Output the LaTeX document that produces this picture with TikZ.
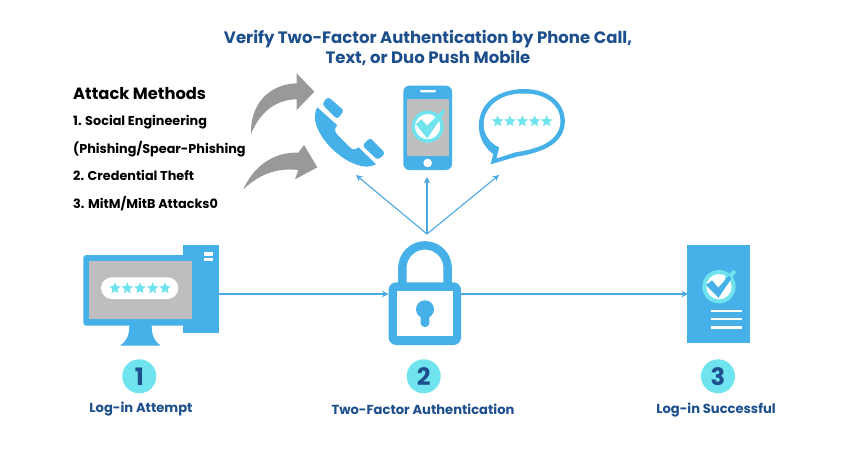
\documentclass[tikz,border=0pt]{standalone}
\usepackage{fontspec}
\setmainfont{Poppins}
\usetikzlibrary{arrows.meta,shapes.geometric}
\definecolor{iconblue}{HTML}{45B1E8}
\definecolor{aqua}{HTML}{6FE4EE}
\definecolor{navy}{HTML}{1D4F8C}
\definecolor{screen}{HTML}{BEBEBE}
\definecolor{arrowgrey}{HTML}{999999}
\definecolor{linkblue}{HTML}{4BA9E1}
\tikzset{
  link/.style={draw=linkblue,line width=1.1pt,-{Stealth[length=6.5pt,width=6.5pt]}},
  stepbadge/.style={circle,fill=aqua,text=navy,minimum size=34pt,inner sep=0pt,font=\bfseries\fontsize{24}{24}\selectfont},
  steplabel/.style={text=navy,font=\bfseries\fontsize{13.1}{15}\selectfont,inner sep=0pt},
  titletext/.style={text=navy,font=\bfseries\fontsize{16.5}{19.5}\selectfont,align=center,inner sep=0pt},
  listtext/.style={text=black,font=\bfseries\fontsize{12.8}{15}\selectfont,anchor=base west,inner sep=0pt},
  starmark/.style={star,star points=5,star point ratio=2.2,fill=aqua,inner sep=0pt,minimum size=#1},
}
\begin{document}
\begin{tikzpicture}[x=1pt,y=-1pt]
\useasboundingbox (0,0) rectangle (857,467);
\fill[white] (0,0) rectangle (857,467);

% Title
\node[titletext] (title) at (428,48) {Verify Two-Factor Authentication by Phone Call,\\Text, or Duo Push Mobile};

% Attack list
\node[text=black,font=\bfseries\fontsize{16.3}{18}\selectfont,anchor=west,inner sep=0pt] (attack) at (73,93.5) {Attack Methods};
\node[listtext] (m1) at (73,125.5) {1. Social Engineering};
\node[listtext] (m2) at (73,153) {(Phishing/Spear-Phishing};
\node[listtext] (m3) at (73,180.5) {2. Credential Theft};
\node[listtext] (m4) at (73,208.5) {3. MitM/MitB Attacks0};

% Upper icons, zoom coordinates
\begin{scope}[shift={(230,60)},xscale=1/3,yscale=1/3]
  % grey arrows
  \fill[arrowgrey] (63,222) .. controls (60,130) and (120,72) .. (200,70) -- (200,40) -- (253,95) -- (200,150) -- (200,118) .. controls (140,118) and (90,155) .. cycle;
  \fill[arrowgrey] (40,388) .. controls (70,320) and (130,275) .. (205,278) -- (222,255) -- (262,322) -- (195,358) -- (205,330) .. controls (140,322) and (85,345) .. cycle;
  % handset
  \fill[iconblue] (262,142) -- (322,196) .. controls (312,206) and (314,214) .. (322,224) -- (360,262) .. controls (368,270) and (376,270) .. (386,262) -- (438,313) .. controls (420,322) and (400,322) .. (380,314) .. controls (320,295) and (245,215) .. (256,160) .. controls (257,152) and (259,147) .. cycle;
  \fill[iconblue,rounded corners=3pt] (294,110) -- (342,152) -- (322,178) -- (276,132) -- cycle;
  \fill[iconblue,rounded corners=3pt] (420,233) -- (466,280) -- (443,300) -- (397,257) -- cycle;
  % mobile
  \fill[iconblue,rounded corners=6pt] (520,77) rectangle (666,330);
  \fill[screen] (530,118) rectangle (656,287);
  \fill[white,rounded corners=1pt] (570,90) rectangle (618,97);
  \fill[white] (593,309) circle[radius=13];
  \fill[white] (593,200) circle[radius=47];
  \draw[aqua,line width=3.4pt] (593,200) circle[radius=43];
  \fill[aqua] (558,193) -- (574,178) -- (592,197) -- (640,148) -- (645,155) -- (592,235) -- cycle;
  % bubble
  \fill[iconblue] (790,282) .. controls (745,250) and (735,190) .. (760,145) .. controls (790,95) and (860,80) .. (915,90) .. controls (980,102) and (1012,150) .. (1003,200) .. controls (992,260) and (920,280) .. (860,290) -- (782,313) -- cycle;
  \fill[white] (808,262) .. controls (760,240) and (750,190) .. (772,153) .. controls (800,105) and (860,95) .. (912,103) .. controls (965,113) and (998,150) .. (990,197) .. controls (978,250) and (915,268) .. (855,277) -- (800,295) -- cycle;
  \foreach \n/\px in {1/803,2/840,3/877,4/914,5/950}
    \node[starmark=12pt] (b\n) at (\px,184) {};
\end{scope}

% PC
\begin{scope}[shift={(70,235)},xscale=1/3,yscale=1/3]
  \fill[iconblue] (178,270) -- (245,270) .. controls (245,305) and (255,320) .. (272,332) -- (150,332) .. controls (168,320) and (178,305) .. cycle;
  \fill[iconblue,rounded corners=3pt] (40,60) rectangle (345,272);
  \fill[iconblue] (338,30) rectangle (447,293);
  \fill[screen] (57,77) rectangle (365,252);
  \fill[white,rounded corners=10.8pt] (93,127) rectangle (325,192);
  \fill[white] (403,52) rectangle (430,62);
  \fill[white] (403,68) rectangle (430,78);
  \foreach \n/\px in {1/135,2/172,3/210,4/248,5/285}
    \node[starmark=12pt] (p\n) at (\px,160) {};
\end{scope}

% Lock
\begin{scope}[shift={(330,230)},xscale=1/3,yscale=1/3]
  \draw[iconblue,line width=8.4pt] (217,170) -- (217,114) arc[start angle=180,end angle=360,x radius=68,y radius=68] -- (353,170);
  \fill[iconblue,rounded corners=7.5pt] (176,157) rectangle (393,345);
  \fill[white] (202,182) rectangle (368,318);
  \fill[iconblue] (285,238) circle[radius=27];
  \fill[iconblue,rounded corners=4pt] (272,250) rectangle (298,291);
\end{scope}

% Document
\begin{scope}[shift={(650,235)},xscale=1/3,yscale=1/3]
  \fill[iconblue] (112,30) rectangle (300,323);
  \fill[aqua] (207,155) circle[radius=50];
  \fill[white] (207,155) circle[radius=38];
  \fill[aqua] (225,127) -- (252,104) -- (258,112) -- (232,150) -- cycle;
  \fill[iconblue] (168,150) -- (186,136) -- (205,158) -- (236,122) -- (244,130) -- (206,188) -- cycle;
  \foreach \yy in {228,252,277}
    \fill[white] (183,\yy-4) rectangle (277,\yy+4);
\end{scope}

% Named anchors for connectors
\coordinate (hub) at (427,234);
\coordinate (callicon) at (356,175);
\coordinate (mobileicon) at (427,177);
\coordinate (bubbleicon) at (499,175);
\coordinate (pcedge) at (219,294);
\coordinate (lockleft) at (388.5,294);
\coordinate (lockright) at (461,294);
\coordinate (docedge) at (688,294);

\draw[link] (hub) -- (callicon);
\draw[link] (hub) -- (mobileicon);
\draw[link] (hub) -- (bubbleicon);
\draw[link] (pcedge) -- (lockleft);
\draw[link] (lockright) -- (docedge);

% Steps
\node[stepbadge] (s1) at (139.3,376.3) {1};
\node[stepbadge] (s2) at (423.7,376.3) {2};
\node[stepbadge] (s3) at (718,376.3) {3};
\node[steplabel] (l1) at (141,409) {Log-in Attempt};
\node[steplabel] (l2) at (423,409) {Two-Factor Authentication};
\node[steplabel] (l3) at (716,410) {Log-in Successful};
\end{tikzpicture}
\end{document}
